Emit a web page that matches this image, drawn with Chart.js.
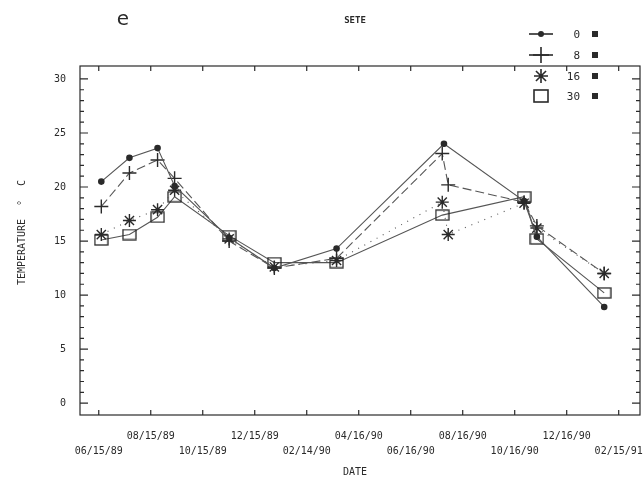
<!DOCTYPE html>
<html><head><meta charset="utf-8">
<script src="https://cdn.jsdelivr.net/npm/chart.js@4/dist/chart.umd.min.js"></script>
<style>html,body{margin:0;padding:0;background:#fff}#wrap{width:644px;height:483px;position:relative}</style>
</head><body><div id="wrap"><canvas id="c" width="644" height="483"></canvas></div>
<script>
// ---- DATA ----
const tickDates = ['06/15/89','08/15/89','10/15/89','12/15/89','02/14/90','04/16/90','06/16/90','08/16/90','10/16/90','12/16/90','02/15/91'];
const xRange = ['05/24/89','03/12/91'];
const yRange = [-1.1, 31.2];

const dates0  = ['06/18/89','07/21/89','08/23/89','09/12/89','11/15/89','01/07/90','03/21/90','07/25/90','10/27/90','11/11/90','01/29/91'];
const temp0   = [20.5, 22.7, 23.6, 20.1, 15.3, 12.5, 14.3, 24.0, 18.7, 15.4, 8.9];

const dates8  = ['06/18/89','07/21/89','08/23/89','09/12/89','11/15/89','01/07/90','03/21/90','07/23/90','07/30/90','10/27/90','11/11/90','01/29/91'];
const temp8   = [18.2, 21.3, 22.5, 20.8, 15.0, 12.5, 13.4, 23.1, 20.2, 18.6, 16.4, 12.0];

const dates16 = ['06/18/89','07/21/89','08/23/89','09/12/89','11/15/89','01/07/90','03/21/90','07/23/90','07/30/90','10/27/90','11/11/90','01/29/91'];
const temp16  = [15.6, 16.9, 17.9, 19.7, 15.2, 12.6, 13.2, 18.6, 15.6, 18.5, 16.2, 12.0];

const dates30 = ['06/18/89','07/21/89','08/23/89','09/12/89','11/15/89','01/07/90','03/21/90','07/23/90','10/27/90','11/11/90','01/29/91'];
const temp30  = [15.1, 15.6, 17.2, 19.1, 15.5, 13.0, 13.0, 17.4, 19.1, 15.2, 10.2];

const seriesNames = ['0','8','16','30'];
// ---------------

function day(s){const p=s.split('/').map(Number);return Date.UTC(1900+p[2],p[0]-1,p[1])/86400000;}
function pts(ds,vs){return ds.map((d,i)=>({x:day(d),y:vs[i]}));}

const INK='#2a2a2a', LINE='#555';
function rectCanvas(w,h){const c=document.createElement('canvas');c.width=w+2;c.height=h+2;const g=c.getContext('2d');g.strokeStyle=INK;g.lineWidth=1.3;g.strokeRect(1,1,w,h);return c;}
const rectImg = rectCanvas(13,10);

const styles = [
  {pointStyle:'circle', pointRadius:2.6, pointBackgroundColor:INK, borderDash:[]},
  {pointStyle:'cross', pointRadius:7, pointBackgroundColor:INK, borderDash:[9,4]},
  {pointStyle:'star', pointRadius:6.5, pointBackgroundColor:INK, borderDash:[1,6]},
  {pointStyle:rectImg, pointRadius:7, pointBackgroundColor:'rgba(0,0,0,0)', borderDash:[]}
];
const dataSets = [pts(dates0,temp0),pts(dates8,temp8),pts(dates16,temp16),pts(dates30,temp30)];

const datasets = dataSets.map((d,i)=>Object.assign({
  label: seriesNames[i]+' m', data:d, borderColor:LINE, borderWidth:1.1,
  pointBorderColor:INK, pointBorderWidth:1.4, tension:0, fill:false, clip:false
}, styles[i]));

const MONO = "'DejaVu Sans Mono', 'Liberation Mono', monospace";

function legendMarker(ctx,i,x,y){
  ctx.save(); ctx.strokeStyle=INK; ctx.fillStyle=INK; ctx.lineWidth=1.6; ctx.setLineDash([]);
  ctx.beginPath();
  if(i===0){ ctx.arc(x,y,3,0,Math.PI*2); ctx.fill(); }
  else if(i===1){ ctx.moveTo(x-8,y);ctx.lineTo(x+8,y);ctx.moveTo(x,y-8);ctx.lineTo(x,y+8);ctx.stroke(); }
  else if(i===2){ const r=7;
    ctx.moveTo(x-r,y);ctx.lineTo(x+r,y);ctx.moveTo(x,y-r);ctx.lineTo(x,y+r);
    const d=r*0.72; ctx.moveTo(x-d,y-d);ctx.lineTo(x+d,y+d);ctx.moveTo(x-d,y+d);ctx.lineTo(x+d,y-d);ctx.stroke(); }
  else { ctx.strokeRect(x-7,y-6,14,12); }
  ctx.restore();
}

const decor = {
  id:'decor',
  afterDraw(chart){
    const ctx=chart.ctx, a=chart.chartArea, xs=chart.scales.x, ys=chart.scales.y;
    ctx.save();
    ctx.strokeStyle=INK; ctx.lineWidth=1.2;
    ctx.strokeRect(a.left,a.top,a.right-a.left,a.bottom-a.top);
    ys.ticks.forEach(t=>{
      const y=ys.getPixelForValue(t.value);
      const len = (t.value%5===0)?8:4;
      ctx.beginPath();
      ctx.moveTo(a.left,y);ctx.lineTo(a.left+len,y);
      ctx.moveTo(a.right,y);ctx.lineTo(a.right-len,y);
      ctx.stroke();
    });
    xs.ticks.forEach(t=>{
      const x=xs.getPixelForValue(t.value);
      ctx.beginPath();
      ctx.moveTo(x,a.bottom);ctx.lineTo(x,a.bottom-5);
      ctx.moveTo(x,a.top);ctx.lineTo(x,a.top+5);
      ctx.stroke();
    });
    ctx.fillStyle=INK; ctx.textAlign='center'; ctx.textBaseline='middle';
    ctx.font="20px 'DejaVu Sans'"; ctx.fillText('e',123,20);
    ctx.font="bold 9px "+MONO; ctx.fillText('SETE',355,21);
    ctx.font="10px "+MONO; ctx.fillText('DATE',355,472);
    ctx.save(); ctx.translate(22,0); ctx.rotate(-Math.PI/2);
    ctx.font="10px "+MONO;
    ctx.fillText('TEMPERATURE',-252,0);
    ctx.fillText('°',-203,0);
    ctx.fillText('C',-183,0);
    ctx.restore();
    const ly=[34,55,76,96];
    seriesNames.forEach((n,i)=>{
      const y=ly[i];
      ctx.save(); ctx.strokeStyle=INK; ctx.lineWidth=1.6;
      if(i<2){ctx.beginPath();ctx.moveTo(529,y);ctx.lineTo(553,y);ctx.stroke();}
      ctx.restore();
      legendMarker(ctx,i,541,y);
      ctx.fillStyle=INK; ctx.font="11px "+MONO; ctx.textAlign='right';
      ctx.fillText(n,580,y+1);
      ctx.fillRect(592,y-3,6,6);
    });
    ctx.restore();
  }
};

new Chart(document.getElementById('c'),{
  type:'line',
  data:{datasets},
  options:{
    responsive:false, animation:false, devicePixelRatio:1,
    layout:{autoPadding:false, padding:{left:0,right:4,top:66,bottom:0}},
    plugins:{legend:{display:false},tooltip:{enabled:false}},
    scales:{
      x:{type:'linear', min:day(xRange[0]), max:day(xRange[1]),
        grid:{display:false, drawTicks:false}, border:{display:false},
        afterBuildTicks(s){s.ticks=tickDates.map(d=>({value:day(d)}));},
        afterFit(s){s.height=68; s.paddingRight=0; s.paddingLeft=0;},
        ticks:{autoSkip:false, maxRotation:0, padding:14, color:INK,
          font:{family:MONO,size:10,lineHeight:1.5},
          callback(v,i){const lab=tickDates[i];return i%2===1?[lab,'']:['',lab];}}
      },
      y:{min:yRange[0], max:yRange[1],
        grid:{display:false, drawTicks:false}, border:{display:false},
        afterBuildTicks(s){const t=[];for(let v=0;v<=30;v++)t.push({value:v});s.ticks=t;},
        afterFit(s){s.width=80; s.paddingTop=0; s.paddingBottom=0;},
        ticks:{autoSkip:false, padding:14, color:INK, font:{family:MONO,size:10},
          callback(v){return v%5===0?String(v):'';}}
      }
    }
  },
  plugins:[decor]
});
</script></body></html>
